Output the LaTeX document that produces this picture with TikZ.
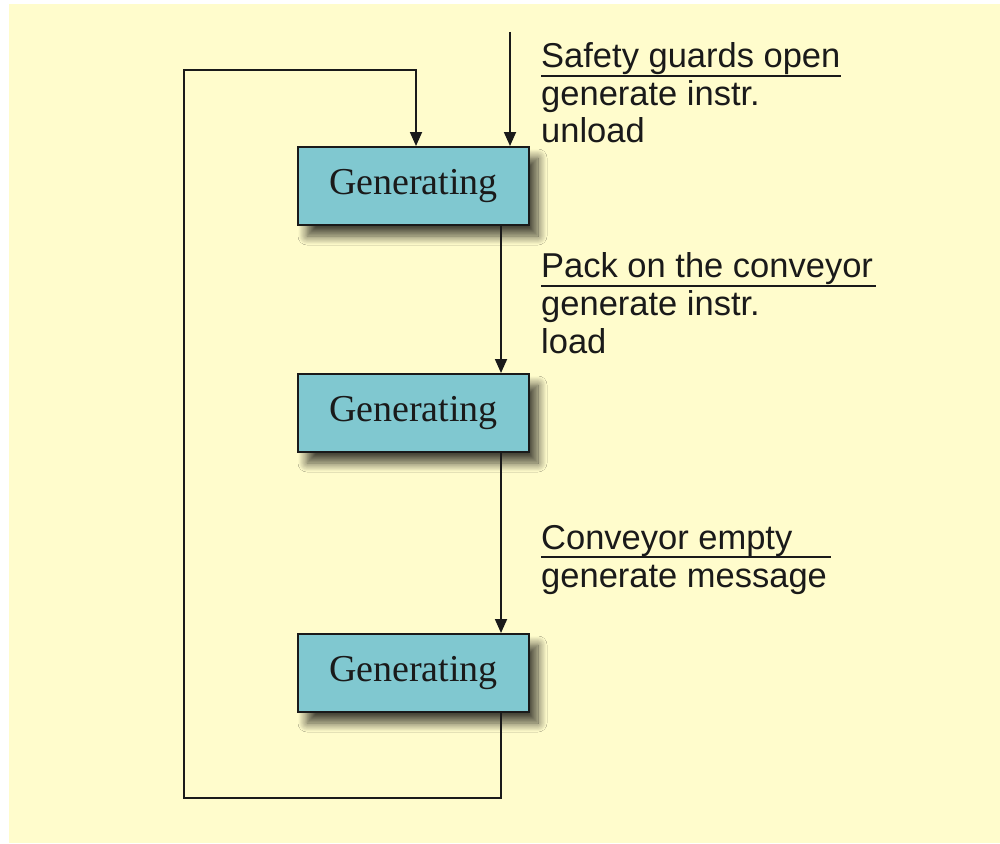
\documentclass[tikz,border=0pt]{standalone}
\usepackage{fontspec}
\setmainfont{Liberation Serif}
\newfontfamily\lab{Liberation Sans}
\usetikzlibrary{arrows.meta,shadows.blur}
\definecolor{bg}{RGB}{255,252,204}
\definecolor{boxfill}{RGB}{128,200,208}
\definecolor{ink}{RGB}{26,26,26}
\tikzset{
  state/.style={draw=ink, line width=2pt, fill=boxfill, minimum width=231pt, minimum height=78pt, inner sep=0pt,
    font=\fontsize{38}{40}\selectfont, text=ink,
    blur shadow={shadow xshift=9pt, shadow yshift=-11pt, shadow blur radius=9pt, shadow blur steps=12, shadow opacity=72}},
  lbl/.style={anchor=base west, inner sep=0pt, font=\lab\fontsize{34.5}{38}\selectfont, text=ink},
  conn/.style={draw=ink, line width=1.8pt},
  arr/.style={conn, -{Triangle[length=14pt,width=12pt]}},
  uline/.style={draw=ink, line width=2pt}
}
\begin{document}
\begin{tikzpicture}[x=1pt,y=-1pt]
\useasboundingbox (0,0) rectangle (1000,843);
\fill[bg] (9,4) rectangle (1000,843);
% states
\node[state] (b1) at (413.5,186) {Generating};
\node[state] (b2) at (413.5,413) {Generating};
\node[state] (b3) at (413.5,673) {Generating};
% labels
\node[lbl] (t1a) at (541,67) {Safety guards open};
\node[lbl] (t1b) at (541,105) {generate instr.};
\node[lbl] (t1c) at (541,142) {unload};
\draw[uline] (541,76) -- (841,76);
\node[lbl] (t2a) at (541,277) {Pack on the conveyor};
\node[lbl] (t2b) at (541,315) {generate instr.};
\node[lbl] (t2c) at (541,353) {load};
\draw[uline] (541,286) -- (876,286);
\node[lbl] (t3a) at (541,549) {Conveyor empty};
\node[lbl] (t3b) at (541,587) {generate message};
\draw[uline] (541,557) -- (831,557);
% connectors
\coordinate (start) at (510,32);
\draw[arr] (start) -- ([xshift=96.5pt]b1.north);
\draw[arr] ([xshift=87.5pt]b1.south) -- ([xshift=87.5pt]b2.north);
\draw[arr] ([xshift=87.5pt]b2.south) -- ([xshift=87.5pt]b3.north);
\coordinate (lb) at (184,798);
\coordinate (lt) at (184,70);
\draw[conn, -{Triangle[length=14pt,width=12pt]}] ([xshift=87.5pt]b3.south) |- (lb) -- (lt) -| ([xshift=2.5pt]b1.north);
\end{tikzpicture}
\end{document}
